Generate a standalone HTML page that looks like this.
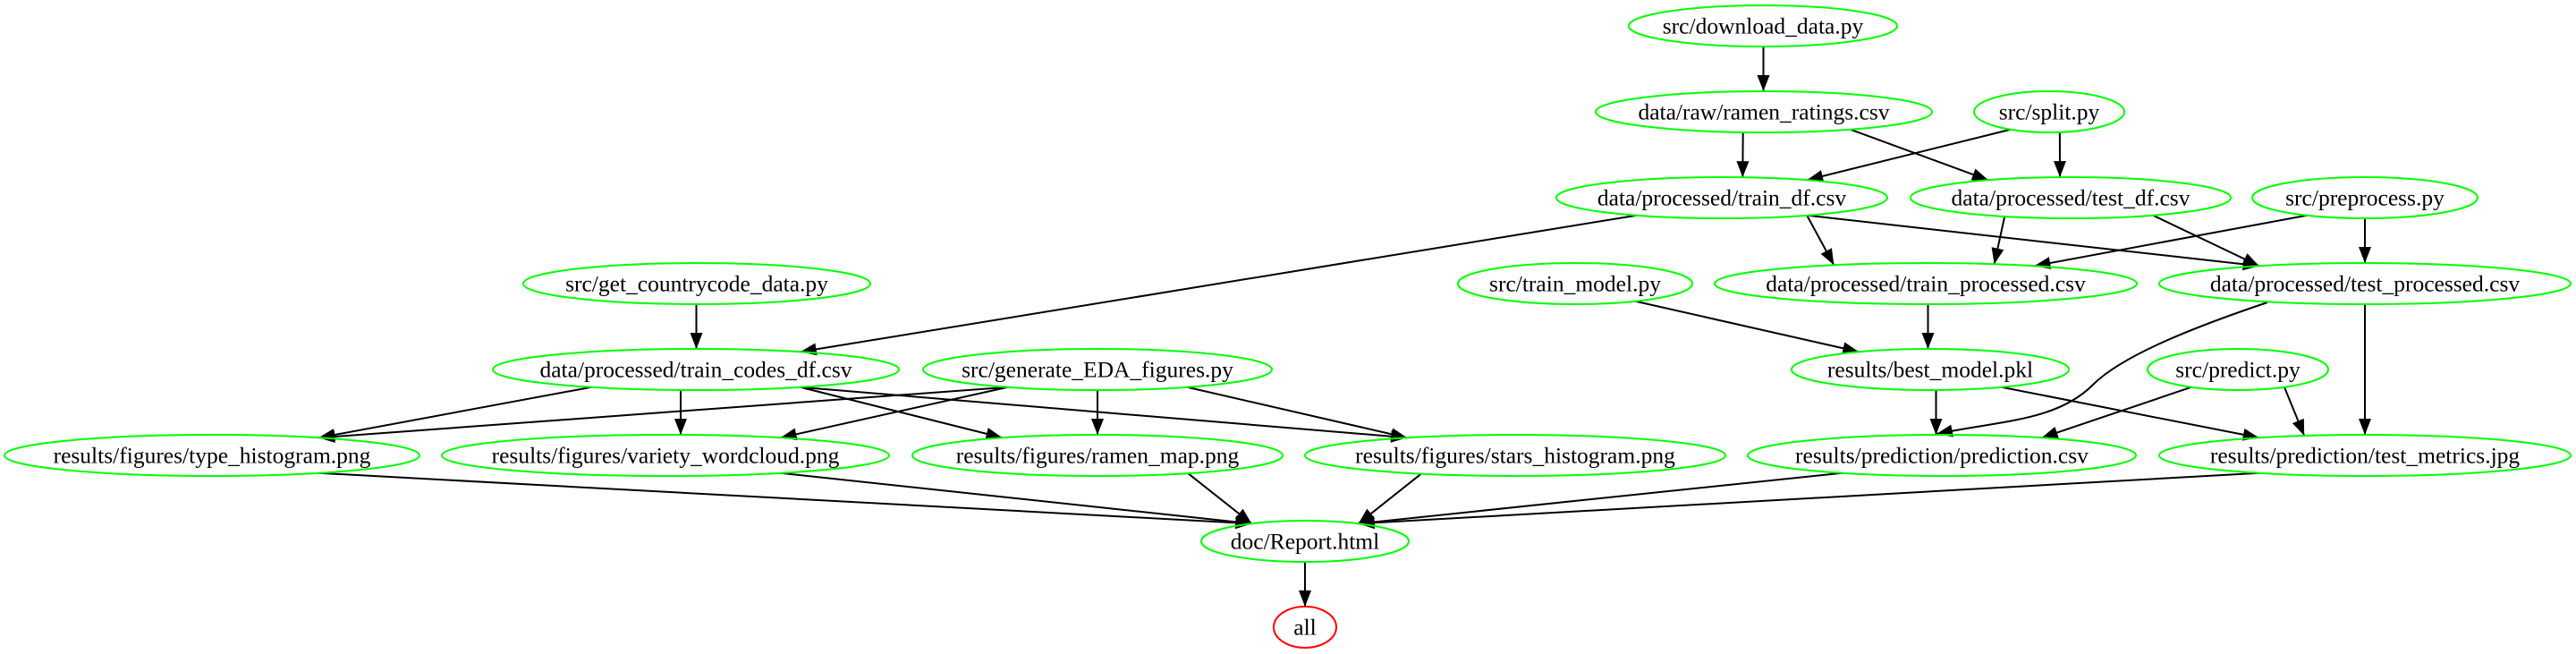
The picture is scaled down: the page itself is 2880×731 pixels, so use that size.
<!DOCTYPE html>
<html><head><meta charset="utf-8"><style>
html,body{margin:0;padding:0;background:#fff;}
svg{display:block}
text{font-family:"Liberation Serif",serif;font-size:25.5px;fill:#000;text-anchor:middle;dominant-baseline:central}
</style></head><body>
<svg id="g" width="2880" height="731" viewBox="0 0 2880 731" xmlns="http://www.w3.org/2000/svg">
<defs><marker id="a" markerUnits="userSpaceOnUse" markerWidth="20" markerHeight="14" refX="18" refY="7" orient="auto"><path d="M0,0 L18,7 L0,14 z" fill="#000"/></marker></defs>
<g id="e"></g><g id="n"></g>
</svg>
<script>
var N={
dl:[1971,29,150,"src/download_data.py"],
raw:[1972,125,188,"data/raw/ramen_ratings.csv"],
split:[2291,125,84,"src/split.py"],
trdf:[1925,221,185,"data/processed/train_df.csv"],
tedf:[2315,221,179,"data/processed/test_df.csv"],
pre:[2644,221,126,"src/preprocess.py"],
gcc:[779,317,194,"src/get_countrycode_data.py"],
tm:[1761,317,131,"src/train_model.py"],
trp:[2153,317,236,"data/processed/train_processed.csv"],
tep:[2644,317,230,"data/processed/test_processed.csv"],
tc:[778,413,227,"data/processed/train_codes_df.csv"],
eda:[1227,413,195,"src/generate_EDA_figures.py"],
bm:[2158,413,155,"results/best_model.pkl"],
pr:[2502,413,101,"src/predict.py"],
th:[237,509,232,"results/figures/type_histogram.png"],
wc:[744,509,250,"results/figures/variety_wordcloud.png"],
rm:[1227,509,207,"results/figures/ramen_map.png"],
sh:[1694,509,235,"results/figures/stars_histogram.png"],
pc:[2171,509,217,"results/prediction/prediction.csv"],
tmj:[2644,509,230,"results/prediction/test_metrics.jpg"],
rep:[1459,605,116,"doc/Report.html"],
all:[1459,701,35,"all"]};
var RY=23;
var E=[["dl","raw"],["raw","trdf"],["raw","tedf"],["split","trdf"],["split","tedf"],
["trdf","tc"],["trdf","trp"],["trdf","tep"],["tedf","trp"],["tedf","tep"],["pre","trp"],["pre","tep"],
["gcc","tc"],["tm","bm"],["trp","bm"],["tep","tmj"],["bm","pc"],["bm","tmj"],["pr","pc"],["pr","tmj"],
["tc","th"],["tc","wc"],["tc","rm"],["tc","sh"],["eda","th"],["eda","wc"],["eda","rm"],["eda","sh"],
["th","rep"],["wc","rep"],["rm","rep"],["sh","rep"],["pc","rep"],["tmj","rep"],["rep","all"]];
var ns="http://www.w3.org/2000/svg";
function mk(t,a,p){var el=document.createElementNS(ns,t);for(var k in a)el.setAttribute(k,a[k]);p.appendChild(el);return el;}
function clip(n,dx,dy){var rx=n[2],ry=RY;var t=1/Math.sqrt(dx*dx/(rx*rx)+dy*dy/(ry*ry));return [n[0]+dx*t,n[1]+dy*t];}
var ge=document.getElementById("e"),gn=document.getElementById("n");
E.forEach(function(e){var s=N[e[0]],t=N[e[1]];
 // attach points offset toward each other horizontally for realism
 var dx=t[0]-s[0],dy=t[1]-s[1];
 var sx=s[0]+Math.max(-s[2]*0.6,Math.min(s[2]*0.6,dx*0.5)),tx=t[0]-Math.max(-t[2]*0.6,Math.min(t[2]*0.6,dx*0.5));
 var p1=clip(s,sx-s[0],RY),p2=clip(t,tx-t[0],-RY);
 // use straight line between boundary points along direction
 var ddx=tx-sx,ddy=t[1]-s[1];
 p1=clip(s,(sx-s[0])+ddx*0.0001+ (sx-s[0]===0?ddx*0.001:0),RY);
 mk("line",{x1:p1[0],y1:p1[1],x2:p2[0],y2:p2[1],stroke:"#000","stroke-width":2,"marker-end":"url(#a)"},ge);
});
mk("path",{d:"M2535,338 C2440,370 2370,400 2340,430 C2300,470 2240,470 2165,485",fill:"none",stroke:"#000","stroke-width":2,"marker-end":"url(#a)"},ge);
for(var k in N){var n=N[k];
 mk("ellipse",{cx:n[0],cy:n[1],rx:n[2],ry:RY,fill:"none",stroke:k=="all"?"#ff0000":"#00ff00","stroke-width":2},gn);
 var t=mk("text",{x:n[0],y:n[1]},gn);t.textContent=n[3];}
</script>
</body></html>
